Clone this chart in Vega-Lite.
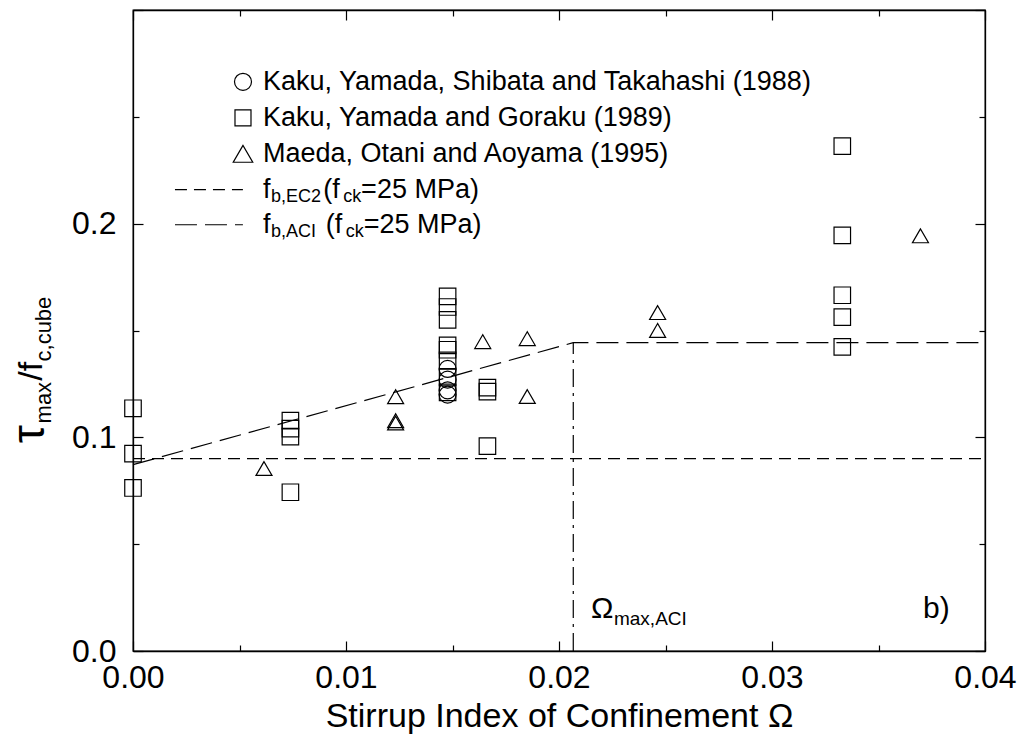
{
  "$schema": "https://vega.github.io/schema/vega-lite/v6.json",
  "width": 852,
  "height": 641,
  "autosize": "none",
  "padding": {"left": 133, "top": 10, "right": 34, "bottom": 85},
  "background": "white",
  "config": {
    "view": {"stroke": "black", "strokeWidth": 1.3},
    "font": "Liberation Sans",
    "axis": {
      "grid": false,
      "domainColor": "black",
      "domainWidth": 1.3,
      "tickColor": "black",
      "tickWidth": 1.2,
      "labelFont": "Liberation Sans",
      "labelColor": "black",
      "labelFontSize": 32,
      "labelFlush": false,
      "labelOverlap": false,
      "titleFont": "Liberation Sans",
      "titleColor": "black",
      "titleFontWeight": "normal"
    }
  },
  "datasets": {
    "tests": [
      {"study": "Kaku 1988", "omega": 0.01477, "ratio": 0.132},
      {"study": "Kaku 1988", "omega": 0.01477, "ratio": 0.127},
      {"study": "Kaku 1988", "omega": 0.01477, "ratio": 0.122},
      {"study": "Kaku 1988", "omega": 0.01477, "ratio": 0.120},
      {"study": "Kaku 1989", "omega": 0.0, "ratio": 0.1136},
      {"study": "Kaku 1989", "omega": 0.0, "ratio": 0.0924},
      {"study": "Kaku 1989", "omega": 0.0, "ratio": 0.0763},
      {"study": "Kaku 1989", "omega": 0.00739, "ratio": 0.1078},
      {"study": "Kaku 1989", "omega": 0.00739, "ratio": 0.1041},
      {"study": "Kaku 1989", "omega": 0.00739, "ratio": 0.1003},
      {"study": "Kaku 1989", "omega": 0.00739, "ratio": 0.0743},
      {"study": "Kaku 1989", "omega": 0.01477, "ratio": 0.166},
      {"study": "Kaku 1989", "omega": 0.01477, "ratio": 0.161},
      {"study": "Kaku 1989", "omega": 0.01477, "ratio": 0.155},
      {"study": "Kaku 1989", "omega": 0.01477, "ratio": 0.143},
      {"study": "Kaku 1989", "omega": 0.01477, "ratio": 0.141},
      {"study": "Kaku 1989", "omega": 0.01477, "ratio": 0.136},
      {"study": "Kaku 1989", "omega": 0.01477, "ratio": 0.128},
      {"study": "Kaku 1989", "omega": 0.01477, "ratio": 0.121},
      {"study": "Kaku 1989", "omega": 0.01664, "ratio": 0.1233},
      {"study": "Kaku 1989", "omega": 0.01664, "ratio": 0.1214},
      {"study": "Kaku 1989", "omega": 0.01664, "ratio": 0.0959},
      {"study": "Kaku 1989", "omega": 0.0333, "ratio": 0.2363},
      {"study": "Kaku 1989", "omega": 0.0333, "ratio": 0.1945},
      {"study": "Kaku 1989", "omega": 0.0333, "ratio": 0.1665},
      {"study": "Kaku 1989", "omega": 0.0333, "ratio": 0.1563},
      {"study": "Kaku 1989", "omega": 0.0333, "ratio": 0.1423},
      {"study": "Maeda 1995", "omega": 0.00615, "ratio": 0.0854},
      {"study": "Maeda 1995", "omega": 0.01233, "ratio": 0.1190},
      {"study": "Maeda 1995", "omega": 0.01233, "ratio": 0.1078},
      {"study": "Maeda 1995", "omega": 0.01233, "ratio": 0.1067},
      {"study": "Maeda 1995", "omega": 0.01642, "ratio": 0.1448},
      {"study": "Maeda 1995", "omega": 0.01851, "ratio": 0.1462},
      {"study": "Maeda 1995", "omega": 0.01851, "ratio": 0.1191},
      {"study": "Maeda 1995", "omega": 0.02463, "ratio": 0.1584},
      {"study": "Maeda 1995", "omega": 0.02463, "ratio": 0.1500},
      {"study": "Maeda 1995", "omega": 0.03697, "ratio": 0.1943}
    ],
    "design": [
      {"provision": "EC2", "omega": 0.0, "fb": 0.090},
      {"provision": "EC2", "omega": 0.04, "fb": 0.090},
      {"provision": "ACI", "omega": 0.0, "fb": 0.0872},
      {"provision": "ACI", "omega": 0.02067, "fb": 0.1443},
      {"provision": "ACI", "omega": 0.04, "fb": 0.1443}
    ],
    "aciLimit": [
      {"omega": 0.02067, "low": 0.0, "high": 0.1443}
    ],
    "one": [{}]
  },
  "resolve": {"axis": {"x": "independent", "y": "independent"}},
  "layer": [
    {
      "data": {"name": "tests"},
      "mark": {"type": "point", "filled": false, "color": "black", "strokeWidth": 1.2, "opacity": 1},
      "encoding": {
        "x": {
          "field": "omega", "type": "quantitative",
          "scale": {"domain": [0, 0.04], "nice": false, "zero": false},
          "axis": {
            "orient": "bottom",
            "values": [0, 0.005, 0.01, 0.015, 0.02, 0.025, 0.03, 0.035, 0.04],
            "labelExpr": "abs(datum.value*100 - round(datum.value*100)) < 1e-6 ? format(datum.value, '.2f') : ''",
            "tickSize": {"condition": {"test": "abs(datum.value*100 - round(datum.value*100)) < 1e-6", "value": -10}, "value": -6},
            "labelPadding": 21,
            "title": "Stirrup Index of Confinement Ω",
            "titleFontSize": 34,
            "titlePadding": 2
          }
        },
        "y": {
          "field": "ratio", "type": "quantitative",
          "scale": {"domain": [0, 0.3], "nice": false, "zero": false},
          "axis": {
            "orient": "left",
            "values": [0, 0.05, 0.1, 0.15, 0.2, 0.25, 0.3],
            "labelExpr": "datum.value < 0.25 && abs(datum.value*10 - round(datum.value*10)) < 1e-6 ? format(datum.value, '.1f') : ''",
            "tickSize": {"condition": {"test": "abs(datum.value*10 - round(datum.value*10)) < 1e-6", "value": -10}, "value": -6},
            "labelPadding": 27,
            "title": null
          }
        },
        "shape": {
          "field": "study", "type": "nominal",
          "scale": {"domain": ["Kaku 1988", "Kaku 1989", "Maeda 1995"], "range": ["circle", "square", "triangle-up"]},
          "legend": null
        },
        "size": {
          "field": "study", "type": "nominal",
          "scale": {"domain": ["Kaku 1988", "Kaku 1989", "Maeda 1995"], "range": [289, 256, 380]},
          "legend": null
        }
      }
    },
    {
      "data": {"name": "design"},
      "mark": {"type": "line", "color": "black", "strokeWidth": 1.2},
      "encoding": {
        "x": {
          "field": "omega", "type": "quantitative",
          "axis": {
            "orient": "top",
            "values": [0, 0.005, 0.01, 0.015, 0.02, 0.025, 0.03, 0.035, 0.04],
            "labels": false,
            "tickSize": {"condition": {"test": "abs(datum.value*100 - round(datum.value*100)) < 1e-6", "value": -10}, "value": -6},
            "title": null
          }
        },
        "y": {
          "field": "fb", "type": "quantitative",
          "axis": {
            "orient": "right",
            "values": [0, 0.05, 0.1, 0.15, 0.2, 0.25, 0.3],
            "labels": false,
            "tickSize": {"condition": {"test": "abs(datum.value*10 - round(datum.value*10)) < 1e-6", "value": -10}, "value": -6},
            "title": null
          }
        },
        "detail": {"field": "provision"},
        "strokeDash": {
          "field": "provision", "type": "nominal",
          "scale": {"domain": ["EC2", "ACI"], "range": [[12, 7], [22, 8]]},
          "legend": null
        }
      }
    },
    {
      "data": {"name": "aciLimit"},
      "mark": {"type": "rule", "color": "black", "strokeWidth": 1.2, "strokeDash": [18, 6, 3, 6]},
      "encoding": {
        "x": {"field": "omega", "type": "quantitative", "axis": null},
        "y": {"field": "low", "type": "quantitative", "axis": null},
        "y2": {"field": "high"}
      }
    },
    {
      "data": {"name": "one"},
      "layer": [
        {"mark": {"type": "point", "shape": "circle", "size": 289, "filled": false, "color": "black", "strokeWidth": 1.2, "opacity": 1},
         "encoding": {"x": {"datum": 0.005164, "type": "quantitative", "axis": null}, "y": {"datum": 0.2664, "type": "quantitative", "axis": null}}},
        {"mark": {"type": "point", "shape": "square", "size": 256, "filled": false, "color": "black", "strokeWidth": 1.2, "opacity": 1},
         "encoding": {"x": {"datum": 0.005164, "type": "quantitative", "axis": null}, "y": {"datum": 0.2495, "type": "quantitative", "axis": null}}},
        {"mark": {"type": "point", "shape": "triangle-up", "size": 380, "filled": false, "color": "black", "strokeWidth": 1.2, "opacity": 1},
         "encoding": {"x": {"datum": 0.005164, "type": "quantitative", "axis": null}, "y": {"datum": 0.2327, "type": "quantitative", "axis": null}}},
        {"mark": {"type": "rule", "color": "black", "strokeWidth": 1.2, "strokeDash": [12, 7]},
         "encoding": {"x": {"datum": 0.00197, "type": "quantitative", "axis": null}, "x2": {"datum": 0.00516}, "y": {"datum": 0.2159, "type": "quantitative", "axis": null}}},
        {"mark": {"type": "rule", "color": "black", "strokeWidth": 1.2, "strokeDash": [22, 8]},
         "encoding": {"x": {"datum": 0.00197, "type": "quantitative", "axis": null}, "x2": {"datum": 0.00516}, "y": {"datum": 0.1995, "type": "quantitative", "axis": null}}},
        {"mark": {"type": "text", "align": "left", "baseline": "middle", "fontSize": 27, "color": "black"},
         "encoding": {"x": {"datum": 0.006103, "type": "quantitative", "axis": null}, "y": {"datum": 0.2664, "type": "quantitative", "axis": null}, "text": {"value": "Kaku, Yamada, Shibata and Takahashi (1988)"}}},
        {"mark": {"type": "text", "align": "left", "baseline": "middle", "fontSize": 27, "color": "black"},
         "encoding": {"x": {"datum": 0.006103, "type": "quantitative", "axis": null}, "y": {"datum": 0.2495, "type": "quantitative", "axis": null}, "text": {"value": "Kaku, Yamada and Goraku (1989)"}}},
        {"mark": {"type": "text", "align": "left", "baseline": "middle", "fontSize": 27, "color": "black"},
         "encoding": {"x": {"datum": 0.006103, "type": "quantitative", "axis": null}, "y": {"datum": 0.2327, "type": "quantitative", "axis": null}, "text": {"value": "Maeda, Otani and Aoyama (1995)"}}},
        {"mark": {"type": "text", "align": "left", "baseline": "middle", "fontSize": 27, "color": "black"},
         "encoding": {"x": {"datum": 0.006103, "type": "quantitative", "axis": null}, "y": {"datum": 0.2159, "type": "quantitative", "axis": null}, "text": {"value": "f"}}},
        {"mark": {"type": "text", "align": "left", "baseline": "middle", "fontSize": 18, "dy": 7, "color": "black"},
         "encoding": {"x": {"datum": 0.00648, "type": "quantitative", "axis": null}, "y": {"datum": 0.2159, "type": "quantitative", "axis": null}, "text": {"value": "b,EC2"}}},
        {"mark": {"type": "text", "align": "left", "baseline": "middle", "fontSize": 27, "color": "black"},
         "encoding": {"x": {"datum": 0.00893, "type": "quantitative", "axis": null}, "y": {"datum": 0.2159, "type": "quantitative", "axis": null}, "text": {"value": "(f"}}},
        {"mark": {"type": "text", "align": "left", "baseline": "middle", "fontSize": 18, "dy": 7, "color": "black"},
         "encoding": {"x": {"datum": 0.00987, "type": "quantitative", "axis": null}, "y": {"datum": 0.2159, "type": "quantitative", "axis": null}, "text": {"value": "ck"}}},
        {"mark": {"type": "text", "align": "left", "baseline": "middle", "fontSize": 27, "color": "black"},
         "encoding": {"x": {"datum": 0.01071, "type": "quantitative", "axis": null}, "y": {"datum": 0.2159, "type": "quantitative", "axis": null}, "text": {"value": "=25 MPa)"}}},
        {"mark": {"type": "text", "align": "left", "baseline": "middle", "fontSize": 27, "color": "black"},
         "encoding": {"x": {"datum": 0.006103, "type": "quantitative", "axis": null}, "y": {"datum": 0.1995, "type": "quantitative", "axis": null}, "text": {"value": "f"}}},
        {"mark": {"type": "text", "align": "left", "baseline": "middle", "fontSize": 18, "dy": 7, "color": "black"},
         "encoding": {"x": {"datum": 0.00648, "type": "quantitative", "axis": null}, "y": {"datum": 0.1995, "type": "quantitative", "axis": null}, "text": {"value": "b,ACI"}}},
        {"mark": {"type": "text", "align": "left", "baseline": "middle", "fontSize": 27, "color": "black"},
         "encoding": {"x": {"datum": 0.00905, "type": "quantitative", "axis": null}, "y": {"datum": 0.1995, "type": "quantitative", "axis": null}, "text": {"value": "(f"}}},
        {"mark": {"type": "text", "align": "left", "baseline": "middle", "fontSize": 18, "dy": 7, "color": "black"},
         "encoding": {"x": {"datum": 0.00999, "type": "quantitative", "axis": null}, "y": {"datum": 0.1995, "type": "quantitative", "axis": null}, "text": {"value": "ck"}}},
        {"mark": {"type": "text", "align": "left", "baseline": "middle", "fontSize": 27, "color": "black"},
         "encoding": {"x": {"datum": 0.01083, "type": "quantitative", "axis": null}, "y": {"datum": 0.1995, "type": "quantitative", "axis": null}, "text": {"value": "=25 MPa)"}}},
        {"mark": {"type": "text", "align": "left", "baseline": "alphabetic", "fontSize": 30, "color": "black"},
         "encoding": {"x": {"datum": 0.0215, "type": "quantitative", "axis": null}, "y": {"datum": 0.0154, "type": "quantitative", "axis": null}, "text": {"value": "Ω"}}},
        {"mark": {"type": "text", "align": "left", "baseline": "alphabetic", "fontSize": 19, "color": "black"},
         "encoding": {"x": {"datum": 0.02258, "type": "quantitative", "axis": null}, "y": {"datum": 0.0121, "type": "quantitative", "axis": null}, "text": {"value": "max,ACI"}}},
        {"mark": {"type": "text", "align": "left", "baseline": "alphabetic", "fontSize": 30, "color": "black"},
         "encoding": {"x": {"datum": 0.03709, "type": "quantitative", "axis": null}, "y": {"datum": 0.0154, "type": "quantitative", "axis": null}, "text": {"value": "b)"}}},
        {"mark": {"type": "text", "align": "left", "baseline": "alphabetic", "angle": 270, "fontSize": 46, "color": "black"},
         "encoding": {"x": {"datum": -0.00420, "type": "quantitative", "axis": null}, "y": {"datum": 0.0972, "type": "quantitative", "axis": null}, "text": {"value": "τ"}}},
        {"mark": {"type": "text", "align": "left", "baseline": "alphabetic", "angle": 270, "fontSize": 22, "color": "black"},
         "encoding": {"x": {"datum": -0.00385, "type": "quantitative", "axis": null}, "y": {"datum": 0.1065, "type": "quantitative", "axis": null}, "text": {"value": "max"}}},
        {"mark": {"type": "text", "align": "left", "baseline": "alphabetic", "angle": 270, "fontSize": 34, "color": "black"},
         "encoding": {"x": {"datum": -0.00427, "type": "quantitative", "axis": null}, "y": {"datum": 0.1265, "type": "quantitative", "axis": null}, "text": {"value": "/f"}}},
        {"mark": {"type": "text", "align": "left", "baseline": "alphabetic", "angle": 270, "fontSize": 22, "color": "black"},
         "encoding": {"x": {"datum": -0.00385, "type": "quantitative", "axis": null}, "y": {"datum": 0.1355, "type": "quantitative", "axis": null}, "text": {"value": "c,cube"}}}
      ]
    }
  ]
}
